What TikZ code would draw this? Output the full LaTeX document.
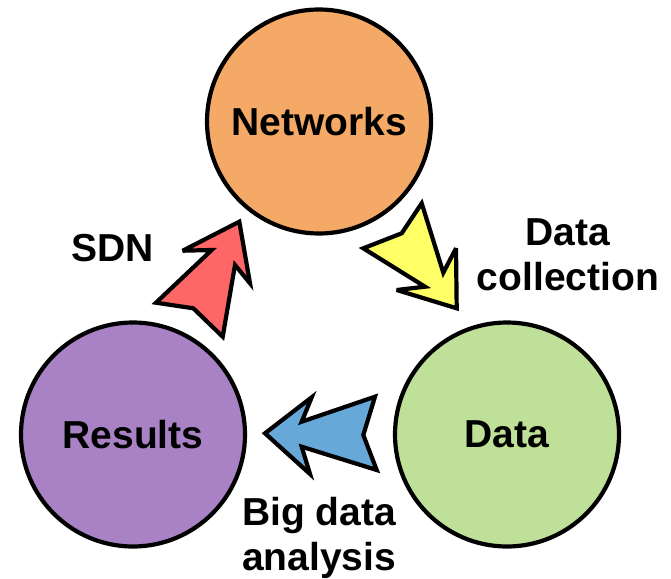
\documentclass[tikz,border=0pt]{standalone}
\usepackage{fontspec}
\setmainfont{Liberation Sans}
\definecolor{netc}{HTML}{F4A966}
\definecolor{datac}{HTML}{BFE099}
\definecolor{resc}{HTML}{A981C5}
\definecolor{redc}{HTML}{FF6666}
\definecolor{yelc}{HTML}{FFFF66}
\definecolor{bluc}{HTML}{66A9D9}
\begin{document}
\begin{tikzpicture}[x=1bp,y=-1bp,
  stage/.style={circle,draw=black,line width=4.2bp,minimum size=224bp,inner sep=0pt,
    font=\fontsize{39bp}{45bp}\selectfont\bfseries},
  lab/.style={align=center,inner sep=0pt,font=\fontsize{39bp}{45bp}\selectfont\bfseries},
  blockarrow/.style={draw=black,line width=4.2bp,line join=miter,miter limit=4}]
\useasboundingbox (0,0) rectangle (671,579);
\node[stage,fill=netc] (net) at (319,121.5) {Networks};
\node[stage,fill=datac] (data) at (507,434.5) {Data};
\node[stage,fill=resc] (res) at (133,434.5) {Results};
% arrows
\draw[blockarrow,fill=redc] (239.3,221.7) -- (182.7,250.7) -- (211.7,250) -- (156,302.7)
  -- (193.3,308.3) -- (222.7,336.7) -- (235,265) -- (250,283.3) -- cycle;
\draw[blockarrow,fill=yelc] (421.7,203.3) -- (401.7,233.3) -- (363.3,248.3) -- (425,286.7)
  -- (396.7,290) -- (456.7,308.3) -- (456,248.3) -- (443.3,272.7) -- cycle;
\draw[blockarrow,fill=bluc] (265,433.3) -- (311.7,397.3) -- (301.7,421.7) -- (375,396.7)
  -- (363.3,435) -- (376.7,470) -- (301.7,446.7) -- (310,474) -- cycle;
% labels
\node[lab] (sdn) at (112.5,248.5) {SDN};
\node[lab] (dc) at (568,254.5) {Data\\collection};
\node[lab] (bda) at (319,538) {Big data\\analysis};
\end{tikzpicture}
\end{document}
